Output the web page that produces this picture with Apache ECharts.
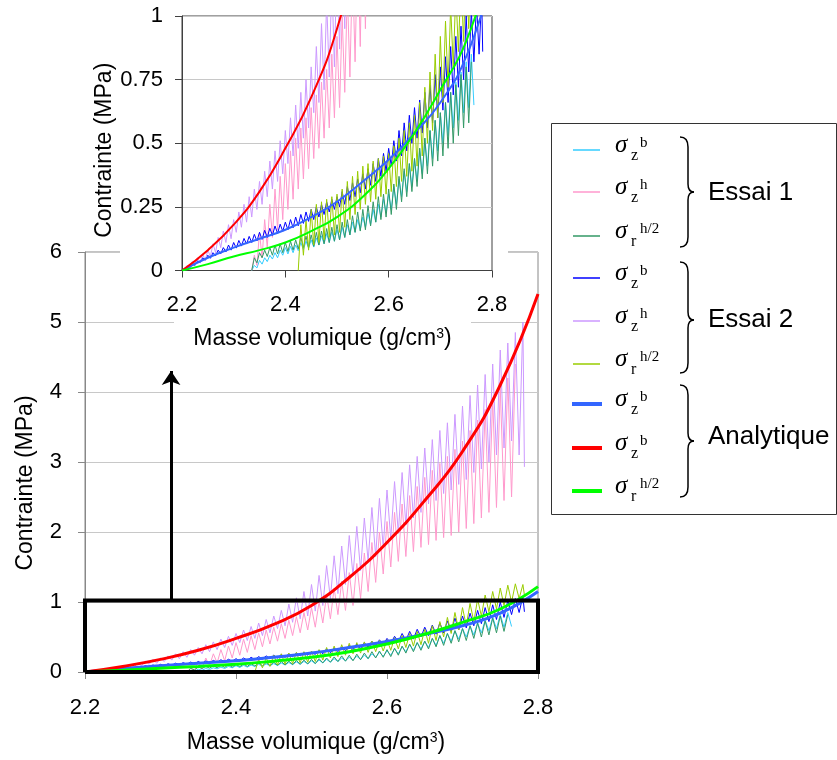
<!DOCTYPE html>
<html><head><meta charset="utf-8">
<script src="https://cdn.jsdelivr.net/npm/echarts@6/dist/echarts.min.js"></script>
<style>html,body{margin:0;padding:0;background:#fff}#c{width:837px;height:760px}</style>
</head><body><div id="c"></div>
<script>
// ---------- DATA ----------
const xTicks = [2.2, 2.4, 2.6, 2.8];
// density sampling positions (g/cm3) for the measured curves
const rho = [
2.200,2.205,2.210,2.215,2.220,2.225,2.230,2.235,2.240,2.245,
2.250,2.255,2.260,2.265,2.270,2.275,2.280,2.285,2.290,2.295,
2.300,2.305,2.310,2.315,2.320,2.325,2.330,2.335,2.340,2.345,
2.350,2.355,2.360,2.365,2.370,2.375,2.380,2.385,2.390,2.395,
2.400,2.405,2.410,2.415,2.420,2.425,2.430,2.435,2.440,2.445,
2.450,2.455,2.460,2.465,2.470,2.475,2.480,2.485,2.490,2.495,
2.500,2.505,2.510,2.515,2.520,2.525,2.530,2.535,2.540,2.545,
2.550,2.555,2.560,2.565,2.570,2.575,2.580,2.585,2.590,2.595,
2.600,2.605,2.610,2.615,2.620,2.625,2.630,2.635,2.640,2.645,
2.650,2.655,2.660,2.665,2.670,2.675,2.680,2.685,2.690,2.695,
2.700,2.705,2.710,2.715,2.720,2.725,2.730,2.735,2.740,2.745,
2.750,2.755,2.760,2.765,2.770,2.775,2.780,2.782];

// Essai 1 : sigma_z^b (starts at rho index 27)
const e1zbStart = 27;
const e1zb = [0,0.02,0.01,0.04,0.025,0.05,0.035,0.06,0.045,
0.07,0.05,0.08,0.06,
0.09,0.065,0.095,0.07,0.1,0.078,0.11,0.082,0.115,0.088,
0.12,0.092,0.128,0.1,0.136,0.105,0.145,0.11,0.152,0.115,
0.16,0.12,0.17,0.13,0.18,0.14,0.19,0.15,0.2,0.16,
0.21,0.17,0.225,0.18,0.24,0.19,0.26,0.21,0.28,0.225,
0.3,0.24,0.33,0.26,0.36,0.29,0.39,0.31,0.42,0.33,
0.44,0.35,0.48,0.38,0.52,0.41,0.55,0.44,0.59,0.47,
0.62,0.5,0.66,0.53,0.7,0.56,0.74,0.59,0.78,0.62,
0.82,0.64,0.85,0.65];
// Essai 1 : sigma_z^h
const e1zhStart = 27;
const e1zh = [0,0.06,0.02,0.15,0.05,0.2,0.09,0.26,0.13,
0.32,0.16,0.37,0.2,
0.42,0.24,0.47,0.28,0.52,0.32,0.56,0.36,0.6,0.4,
0.64,0.44,0.69,0.48,0.74,0.52,0.79,0.56,0.85,0.6,
0.92,0.64,1.0,0.7,1.1,0.76,1.2,0.82,1.3,0.88,
1.42,0.95,1.55,1.05,1.7,1.15,1.85,1.28,2.0,1.4,
2.15,1.5,2.28,1.58,2.4,1.65,2.52,1.72,2.65,1.78,
2.78,1.82,2.88,1.88,2.98,1.92,3.08,1.95,3.18,2.0,
3.3,2.05,3.45,2.12,3.6,2.2,3.75,2.28,3.9,2.35,
4.05,2.45,4.2,2.5,4.4];
// Essai 1 : sigma_r^h/2
const e1rStart = 27;
const e1r = [0,0.05,0.03,0.07,0.05,0.08,0.055,0.09,0.06,
0.1,0.065,0.105,0.07,
0.11,0.075,0.115,0.08,0.12,0.085,0.13,0.09,0.135,0.09,
0.14,0.095,0.15,0.1,0.155,0.105,0.165,0.11,0.17,0.115,
0.18,0.12,0.19,0.13,0.2,0.14,0.215,0.15,0.23,0.155,
0.24,0.16,0.255,0.175,0.27,0.19,0.29,0.2,0.3,0.21,
0.32,0.22,0.34,0.24,0.37,0.27,0.4,0.29,0.42,0.31,
0.44,0.33,0.48,0.36,0.52,0.38,0.55,0.41,0.59,0.43,
0.62,0.45,0.66,0.48,0.7,0.5,0.73,0.53,0.77,0.56,
0.8,0.58,0.82];
// Essai 2 : sigma_z^b
const e2zbStart = 0;
const e2zb = [0,0.004,0.015,0.01,0.025,0.02,0.038,0.03,0.05,0.04,
0.06,0.048,0.07,0.058,0.08,0.066,0.09,0.073,0.1,0.08,
0.11,0.088,0.118,0.096,0.126,0.104,0.134,0.11,0.142,0.116,
0.15,0.122,0.158,0.13,0.166,0.138,0.175,0.146,0.182,0.154,
0.19,0.16,0.2,0.168,0.21,0.176,0.22,0.185,0.23,0.193,
0.24,0.2,0.25,0.21,0.26,0.22,0.27,0.23,0.28,0.24,
0.29,0.25,0.31,0.26,0.33,0.275,0.345,0.29,0.36,0.305,
0.38,0.32,0.4,0.335,0.42,0.35,0.44,0.37,0.46,0.39,
0.48,0.41,0.51,0.43,0.55,0.45,0.58,0.47,0.61,0.5,
0.64,0.52,0.67,0.54,0.7,0.56,0.73,0.58,0.77,0.6,
0.8,0.63,0.84,0.66,0.88,0.69,0.92,0.72,0.96,0.75,
1.0,0.78,1.02,0.82,1.05,0.85,1.08,0.86];
// Essai 2 : sigma_z^h
const e2zhStart = 0;
const e2zh = [0,0.005,0.02,0.01,0.035,0.02,0.05,0.03,0.065,0.04,
0.08,0.055,0.105,0.07,0.13,0.09,0.155,0.11,0.18,0.125,
0.2,0.15,0.23,0.17,0.26,0.19,0.29,0.21,0.32,0.24,
0.35,0.26,0.39,0.29,0.43,0.32,0.47,0.35,0.51,0.38,
0.55,0.42,0.6,0.45,0.65,0.48,0.7,0.52,0.75,0.56,
0.8,0.62,0.88,0.66,0.97,0.71,1.06,0.76,1.15,0.8,
1.25,0.87,1.38,0.95,1.52,1.05,1.66,1.12,1.8,1.25,
1.95,1.38,2.08,1.45,2.2,1.58,2.35,1.65,2.48,1.78,
2.6,1.9,2.72,1.98,2.85,2.1,2.96,2.2,3.08,2.28,
3.2,2.4,3.32,2.45,3.45,2.55,3.56,2.6,3.68,2.68,
3.8,2.75,3.95,2.85,4.1,2.9,4.25,3.0,4.4,3.1,
4.6,3.2,4.7,3.3,4.85,3.1,5.0,2.93];
// Essai 2 : sigma_r^h/2
const e2rStart = 45;
const e2r = [0,0.18,0.06,0.2,0.08,
0.24,0.1,0.26,0.11,0.27,0.12,0.28,0.13,0.29,0.14,
0.3,0.15,0.32,0.17,0.35,0.2,0.37,0.22,0.39,0.24,
0.41,0.26,0.42,0.27,0.43,0.28,0.44,0.29,0.45,0.3,
0.46,0.31,0.49,0.33,0.52,0.35,0.55,0.37,0.58,0.39,
0.61,0.41,0.66,0.45,0.72,0.5,0.78,0.55,0.85,0.6,
0.92,0.66,0.98,0.72,1.04,0.8,1.1,0.86,1.15,0.9,
1.2,0.95,1.24,1.0,1.26,1.05,1.25,1.1];

// Analytique
const anaRho = [2.2,2.25,2.3,2.35,2.4,2.45,2.5,2.55,2.6,2.65,2.7,2.75,2.8];
const anaZb  = [0,0.05,0.09,0.125,0.16,0.21,0.27,0.35,0.435,0.54,0.66,0.84,1.15];
const anaZh  = [0,0.08,0.18,0.31,0.48,0.68,0.95,1.35,1.85,2.45,3.15,4.1,5.4];
const anaR   = [0,0.025,0.055,0.08,0.11,0.155,0.21,0.29,0.40,0.54,0.71,0.9,1.22];

// zoom frame and arrow
const boxRho = [2.2, 2.8];
const boxSig = [0, 1.02];
const arrowRho = 2.314;
const arrowSig = [1.02, 4.3];

// legend
const legendSub = ['z','z','r','z','z','r','z','z','r'];
const legendSup = ['b','h','h/2','b','h','h/2','b','b','h/2'];
const groupNames = ['Essai 1','Essai 2','Analytique'];
const axisTitleX = 'Masse volumique (g/cm{sup|3})';
const axisTitleY = 'Contrainte (MPa)';

// ---------- CHART ----------
const colors = ['#33CCFF','#FF99CC','#339966','#0000FF','#CC99FF','#99CC00','#3366FF','#FF0000','#00FF00'];
const SANS = '"Liberation Sans", Arial, sans-serif';
const SERIF = '"Liberation Serif", "DejaVu Serif", serif';

function pairs(xs, start, ys) { return ys.map((y, k) => [xs[start + k], y]); }
const expData = [
  pairs(rho, e1zbStart, e1zb), pairs(rho, e1zhStart, e1zh), pairs(rho, e1rStart, e1r),
  pairs(rho, e2zbStart, e2zb), pairs(rho, e2zhStart, e2zh), pairs(rho, e2rStart, e2r)
];
const anaData = [pairs(anaRho, 0, anaZb), pairs(anaRho, 0, anaZh), pairs(anaRho, 0, anaR)];

const series = [];
[0, 1].forEach(g => {
  expData.forEach((d, i) => series.push({
    type: 'line', xAxisIndex: g, yAxisIndex: g, data: d, showSymbol: false, symbol: 'none',
    lineStyle: { color: colors[i], width: 1 }, itemStyle: { color: colors[i] },
    z: g ? 7 : 2, silent: true, animation: false
  }));
  anaData.forEach((d, i) => series.push({
    type: 'line', xAxisIndex: g, yAxisIndex: g, data: d, showSymbol: false, symbol: 'none',
    smooth: 0.5,
    lineStyle: { color: colors[6 + i], width: g ? 2 : 3 }, itemStyle: { color: colors[6 + i] },
    z: g ? 8 : 3, silent: true, animation: false
  }));
});
// zoom frame
series.push({
  type: 'line', xAxisIndex: 0, yAxisIndex: 0, clip: false, showSymbol: false, symbol: 'none', z: 4,
  data: [[boxRho[0], boxSig[0]], [boxRho[1], boxSig[0]], [boxRho[1], boxSig[1]], [boxRho[0], boxSig[1]], [boxRho[0], boxSig[0]]],
  lineStyle: { color: '#000', width: 4, join: 'miter' }, silent: true
});
// arrow
series.push({
  type: 'lines', coordinateSystem: 'cartesian2d', xAxisIndex: 0, yAxisIndex: 0, z: 4,
  symbol: ['none', 'arrow'], symbolSize: 14,
  lineStyle: { color: '#000', width: 3, opacity: 1 },
  data: [{ coords: [[arrowRho, arrowSig[0]], [arrowRho, arrowSig[1]]] }], silent: true
});

function xAxis(g) {
  return {
    gridIndex: g, type: 'value', min: 2.2, max: 2.8, interval: 0.2, z: g ? 6 : 0,
    axisLine: { show: true, lineStyle: { color: g ? '#404040' : '#888', width: 1 } },
    axisTick: { show: true, length: 7, lineStyle: { color: g ? '#404040' : '#888' } },
    axisLabel: { margin: g ? 23 : 25, fontSize: 22, color: '#000', fontFamily: SANS, formatter: v => v.toFixed(1) },
    splitLine: { show: false },
    name: axisTitleX, nameLocation: 'middle', nameGap: g ? 57 : 59,
    nameTextStyle: { fontSize: 23, color: '#000', fontFamily: SANS, padding: g ? [0, 29, 0, 0] : [0, 0, 0, 9],
      rich: { sup: { fontSize: 14, verticalAlign: 'top', lineHeight: 14, color: '#000', fontFamily: SANS } } }
  };
}
function yAxis(g) {
  return {
    gridIndex: g, type: 'value', min: 0, max: g ? 1 : 6, interval: g ? 0.25 : 1, z: g ? 6 : 0,
    axisLine: { show: true, lineStyle: { color: g ? '#404040' : '#888', width: 1 } },
    axisTick: { show: true, length: 7, lineStyle: { color: g ? '#404040' : '#888' } },
    axisLabel: { margin: g ? 19 : 23, fontSize: 22, color: '#000', fontFamily: SANS },
    splitLine: { show: true, lineStyle: { color: '#c8c8c8', width: 1 } },
    name: axisTitleY, nameLocation: 'middle', nameGap: g ? 59 : 48,
    nameTextStyle: { fontSize: 23, color: '#000', fontFamily: SANS, padding: g ? [0, 14, 0, 0] : [0, 42, 0, 0] }
  };
}

// graphics: inset white backing + legend
const graphic = [
  { type: 'rect', shape: { x: 120, y: 0, width: 388, height: 318 }, style: { fill: '#fff' }, z: 5, silent: true },
  { type: 'rect', shape: { x: 174, y: 318, width: 297, height: 40 }, style: { fill: '#fff' }, z: 5, silent: true },
  { type: 'rect', shape: { x: 551.5, y: 123.5, width: 285, height: 391 }, style: { fill: '#fff', stroke: '#333', lineWidth: 1 }, z: 9, silent: true }
];
const rowsY = [150, 192, 236, 278, 321, 364, 404, 448, 491];
rowsY.forEach((ry, i) => {
  const thick = i >= 6;
  graphic.push({ type: 'line', shape: { x1: thick ? 572 : 573, y1: ry, x2: thick ? 602 : 600, y2: ry },
    style: { stroke: colors[i], lineWidth: thick ? 4 : 1.5 }, z: 10, silent: true });
  graphic.push({ type: 'text', x: 615, y: ry - 5, z: 10, silent: true,
    style: { text: 'σ', font: 'italic 25px ' + SERIF, fill: '#000', textAlign: 'left', textVerticalAlign: 'middle' } });
  graphic.push({ type: 'text', x: 631, y: ry + 6, z: 10, silent: true,
    style: { text: legendSub[i], font: '16px ' + SERIF, fill: '#000', textAlign: 'left', textVerticalAlign: 'middle' } });
  graphic.push({ type: 'text', x: 640, y: ry - 7, z: 10, silent: true,
    style: { text: legendSup[i], font: '15px ' + SERIF, fill: '#000', textAlign: 'left', textVerticalAlign: 'middle' } });
});
const braces = [[137, 192, 247], [262, 320, 373], [385, 441, 497]];
const braceStyle = { fill: 'none', stroke: '#000', lineWidth: 1.5 };
braces.forEach(([a, m, b], k) => {
  const parts = [
    { type: 'bezierCurve', shape: { x1: 680, y1: a, cpx1: 688, cpy1: a, x2: 688, y2: a + 10 } },
    { type: 'line', shape: { x1: 688, y1: a + 10, x2: 688, y2: m - 8 } },
    { type: 'bezierCurve', shape: { x1: 688, y1: m - 8, cpx1: 688, cpy1: m, x2: 694, y2: m } },
    { type: 'bezierCurve', shape: { x1: 694, y1: m, cpx1: 688, cpy1: m, x2: 688, y2: m + 8 } },
    { type: 'line', shape: { x1: 688, y1: m + 8, x2: 688, y2: b - 10 } },
    { type: 'bezierCurve', shape: { x1: 688, y1: b - 10, cpx1: 688, cpy1: b, x2: 680, y2: b } }
  ];
  parts.forEach(p => graphic.push(Object.assign(p, { style: braceStyle, z: 10, silent: true })));
  graphic.push({ type: 'text', x: 708, y: [193, 320, 437][k], z: 10, silent: true,
    style: { text: groupNames[k], font: '26px ' + SANS, fill: '#000', textAlign: 'left', textVerticalAlign: 'middle' } });
});

const chart = echarts.init(document.getElementById('c'), null, { renderer: 'canvas' });
chart.setOption({
  animation: false,
  backgroundColor: '#fff',
  grid: [
    { left: 85, top: 252, width: 453, height: 420, show: true, borderColor: '#888', borderWidth: 1, backgroundColor: 'transparent', z: 0 },
    { left: 182, top: 16, width: 310, height: 254.5, show: true, borderColor: '#404040', borderWidth: 1, backgroundColor: 'transparent', z: 6 }
  ],
  xAxis: [xAxis(0), xAxis(1)],
  yAxis: [yAxis(0), yAxis(1)],
  series: series,
  graphic: graphic
});
</script></body></html>
